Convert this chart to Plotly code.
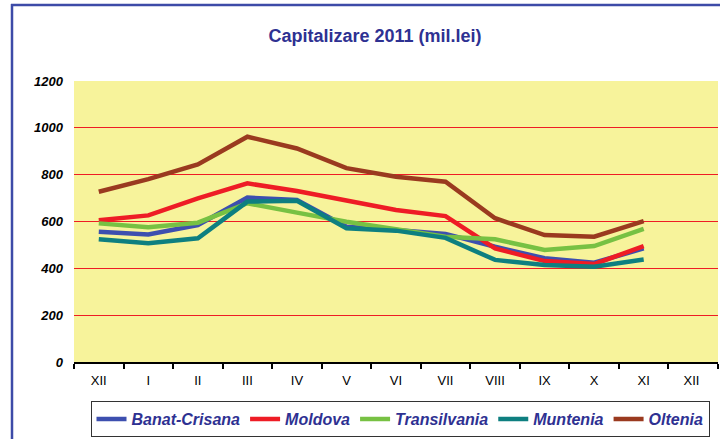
import plotly.graph_objects as go

months = ["XII", "I", "II", "III", "IV", "V", "VI", "VII", "VIII", "IX", "X", "XI", "XII "]
banat = [556, 545, 585, 702, 692, 578, 564, 547, 492, 443, 424, 485]
moldova = [605, 626, 699, 763, 730, 690, 649, 623, 485, 431, 418, 495]
transilvania = [592, 575, 595, 678, 638, 599, 567, 535, 524, 478, 495, 568]
muntenia = [524, 507, 528, 685, 689, 571, 561, 530, 436, 414, 407, 438]
oltenia = [727, 781, 844, 962, 912, 828, 791, 770, 614, 542, 535, 602]

series = [
    ("Banat-Crisana", banat, "#3D4FAF"),
    ("Moldova", moldova, "#EE1C25"),
    ("Transilvania", transilvania, "#77C143"),
    ("Muntenia", muntenia, "#0E7F80"),
    ("Oltenia", oltenia, "#9A3A1F"),
]

fig = go.Figure()
for name, vals, col in series:
    fig.add_trace(go.Scatter(
        x=months[:len(vals)], y=vals, name="<b><i>%s</i></b>" % name, mode="lines",
        line=dict(color=col, width=4.5),
    ))

FONT = "Liberation Sans, Arial, sans-serif"
L, R, T, B = 74, 2, 81, 77
W, H = 720, 439
pw, ph = W - L - R, H - T - B

def px(x):
    return (x - L) / pw

def py(y):
    return (H - B - y) / ph

fig.update_layout(
    width=W, height=H,
    margin=dict(l=L, r=R, t=T, b=B, autoexpand=False),
    paper_bgcolor="white",
    plot_bgcolor="#F7F39B",
    showlegend=True,
    title=dict(
        text="<b>Capitalizare 2011 (mil.lei)</b>",
        font=dict(family=FONT, size=18, color="#2E3192"),
        x=375 / W, xanchor="center", xref="container",
        y=1 - 36 / H, yanchor="middle", yref="container",
    ),
    xaxis=dict(
        categoryorder="array", categoryarray=months,
        range=[-0.5, 12.5],
        showgrid=False, zeroline=False,
        showline=True, linecolor="black", linewidth=1.5,
        ticks="outside", ticklen=5, tickcolor="black", tickwidth=1.5,
        tickson="boundaries", ticklabelstandoff=6,
        tickfont=dict(family=FONT, size=13, color="black"),
        fixedrange=True,
    ),
    yaxis=dict(
        range=[0, 1200], tickvals=[0, 200, 400, 600, 800, 1000, 1200],
        ticktext=["<b><i>%d</i></b>" % v for v in [0, 200, 400, 600, 800, 1000, 1200]],
        showgrid=True, gridcolor="#EE1C25", gridwidth=1,
        zeroline=False, showline=False,
        ticks="", ticklabelstandoff=10,
        tickfont=dict(family=FONT, size=13, color="black"),
        fixedrange=True,
    ),
    legend=dict(
        orientation="h",
        x=px(400), xanchor="center",
        y=py(419), yanchor="middle",
        bordercolor="#333333", borderwidth=1, bgcolor="white",
        font=dict(family=FONT, size=16, color="#2E3192"),
        itemwidth=30,
        tracegroupgap=0,
    ),
    shapes=[
        dict(type="line", xref="paper", yref="paper",
             x0=px(12), x1=px(12), y0=py(4), y1=py(445),
             line=dict(color="#3D4BA8", width=2.5)),
        dict(type="line", xref="paper", yref="paper",
             x0=px(11), x1=px(725), y0=py(5), y1=py(5),
             line=dict(color="#3D4BA8", width=2.5)),
    ],
)

fig.write_html("out.html", config={"displayModeBar": False},
               post_script="document.body.style.margin='0';document.body.style.padding='0';")
